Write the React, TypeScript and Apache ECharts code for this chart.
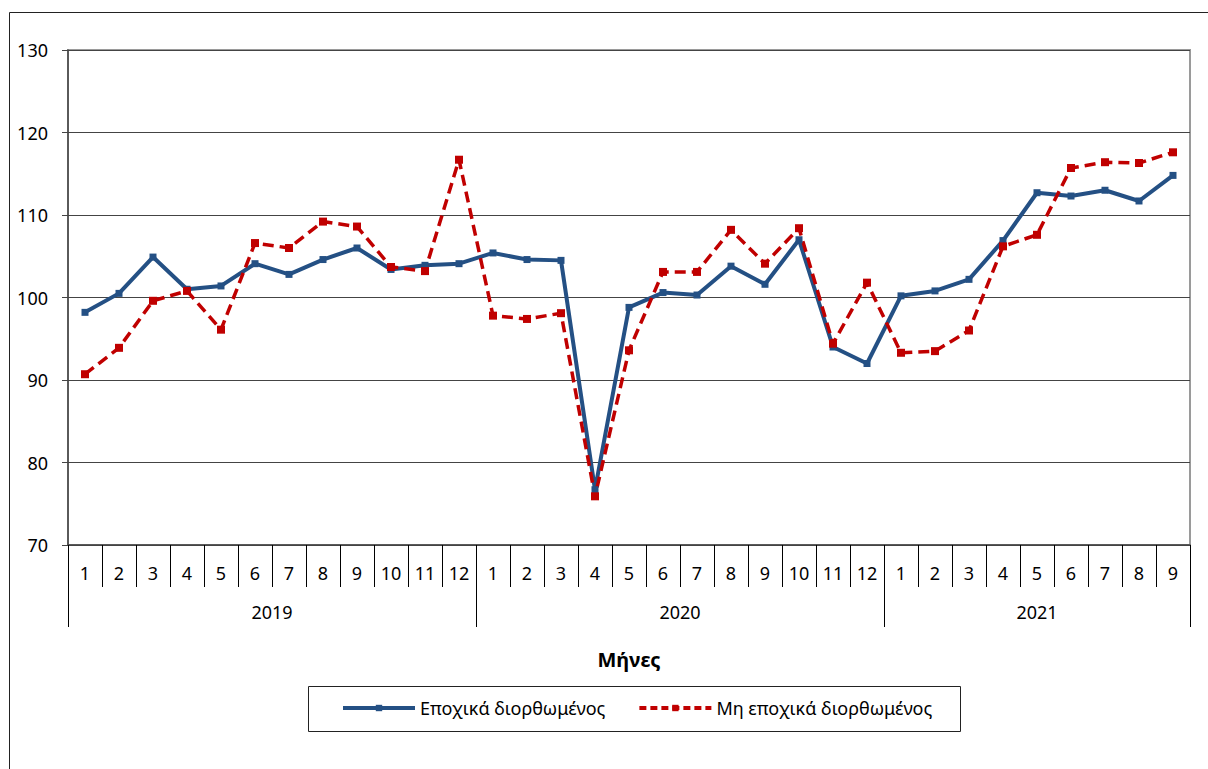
import React, { useEffect, useRef } from "react";
import * as echarts from "echarts";

const years = ["2019", "2020", "2021"];
const monthsPerYear = [12, 12, 9];
const categories = [
  "1", "2", "3", "4", "5", "6", "7", "8", "9", "10", "11", "12",
  "1", "2", "3", "4", "5", "6", "7", "8", "9", "10", "11", "12",
  "1", "2", "3", "4", "5", "6", "7", "8", "9",
];
const seasonallyAdjusted = [
  98.2, 100.5, 104.9, 101.0, 101.4, 104.1, 102.8, 104.6, 106.0, 103.4, 103.9, 104.1,
  105.4, 104.6, 104.5, 76.7, 98.8, 100.6, 100.3, 103.8, 101.6, 107.0, 94.0, 92.0,
  100.2, 100.8, 102.2, 106.9, 112.7, 112.3, 113.0, 111.7, 114.8,
];
const notAdjusted = [
  90.7, 93.9, 99.6, 100.8, 96.1, 106.6, 106.0, 109.2, 108.6, 103.7, 103.2, 116.7,
  97.8, 97.4, 98.1, 75.9, 93.6, 103.1, 103.1, 108.2, 104.1, 108.4, 94.4, 101.8,
  93.3, 93.5, 96.0, 106.2, 107.6, 115.7, 116.4, 116.3, 117.6,
];
const seriesNames = ["Εποχικά διορθωμένος", "Μη εποχικά διορθωμένος"];
const xAxisTitle = "Μήνες";
const yTicks = { min: 70, max: 130, interval: 10 };

const FONT = '"Noto Sans", sans-serif';
const BLUE = "#245084";
const RED = "#c00000";

export default function App() {
  const ref = useRef<HTMLDivElement>(null);
  useEffect(() => {
    document.body.style.margin = "0";
    if (!ref.current) return;
    const chart = echarts.init(ref.current, null, { renderer: "svg" });

    const bounds: number[] = [0];
    monthsPerYear.forEach((m) => bounds.push(bounds[bounds.length - 1] + m));
    const mids = years.map((_, i) => (bounds[i] + bounds[i + 1]) / 2);
    const total = bounds[bounds.length - 1];

    chart.setOption({
      animation: false,
      backgroundColor: "#fff",
      textStyle: { fontFamily: FONT },
      grid: {
        left: 68, top: 50, right: 18, bottom: 224,
        show: true, borderColor: "#9a9a9a", borderWidth: 2, backgroundColor: "transparent",
      },
      graphic: [
        { type: "rect", left: 7, top: 10, shape: { width: 1300, height: 900 }, style: { fill: "none", stroke: "#222", lineWidth: 1 }, silent: true },
        { type: "rect", left: 306, top: 684, shape: { width: 652, height: 45 }, style: { fill: "none", stroke: "#222", lineWidth: 1 }, silent: true },
      ],
      legend: {
        left: 336, top: 694, itemWidth: 72, itemHeight: 8, itemGap: 32,
        textStyle: { fontFamily: FONT, fontSize: 18, color: "#000" },
        data: [
          { name: seriesNames[0], lineStyle: { width: 4, color: BLUE } },
          { name: seriesNames[1], lineStyle: { width: 4, color: RED, type: [7, 4] } },
        ],
      },
      xAxis: [
        {
          type: "category", data: categories, position: "bottom",
          axisLine: { show: true, lineStyle: { color: "#444", width: 1.5 } },
          axisTick: { show: true, interval: 0, length: 42, lineStyle: { color: "#000", width: 1 } },
          axisLabel: { interval: 0, margin: 19, fontSize: 18, color: "#000", fontFamily: FONT },
          splitLine: { show: false },
        },
        {
          type: "value", min: 0, max: total, position: "bottom",
          axisLine: { show: false },
          axisTick: { show: true, length: 82, customValues: bounds, lineStyle: { color: "#000", width: 1 } },
          axisLabel: {
            margin: 58, fontSize: 18, color: "#000", fontFamily: FONT, customValues: mids,
            formatter: (v: number) => { const i = mids.indexOf(v); return i >= 0 ? years[i] : ""; },
          },
          splitLine: { show: false },
          name: xAxisTitle, nameLocation: "middle", nameGap: 104,
          nameTextStyle: { fontSize: 20, fontWeight: "bold", color: "#000", fontFamily: FONT },
        },
      ],
      yAxis: {
        type: "value", min: yTicks.min, max: yTicks.max, interval: yTicks.interval,
        axisLine: { show: true, lineStyle: { color: "#444", width: 1.5 } },
        axisTick: { show: true, length: 6, lineStyle: { color: "#444" } },
        axisLabel: { margin: 20, fontSize: 18, color: "#000", fontFamily: FONT },
        splitLine: { show: true, lineStyle: { color: "#444", width: 1 } },
      },
      series: [
        {
          name: seriesNames[0], type: "line", data: seasonallyAdjusted, xAxisIndex: 0,
          symbol: "rect", symbolSize: 7, showSymbol: true,
          lineStyle: { color: BLUE, width: 4 },
          itemStyle: { color: BLUE },
        },
        {
          name: seriesNames[1], type: "line", data: notAdjusted, xAxisIndex: 0,
          symbol: "rect", symbolSize: 8, showSymbol: true,
          lineStyle: { color: RED, width: 3.5, type: [11, 6] },
          itemStyle: { color: RED },
        },
      ],
    });
    return () => chart.dispose();
  }, []);
  return <div ref={ref} style={{ width: 1208, height: 769 }} />;
}
